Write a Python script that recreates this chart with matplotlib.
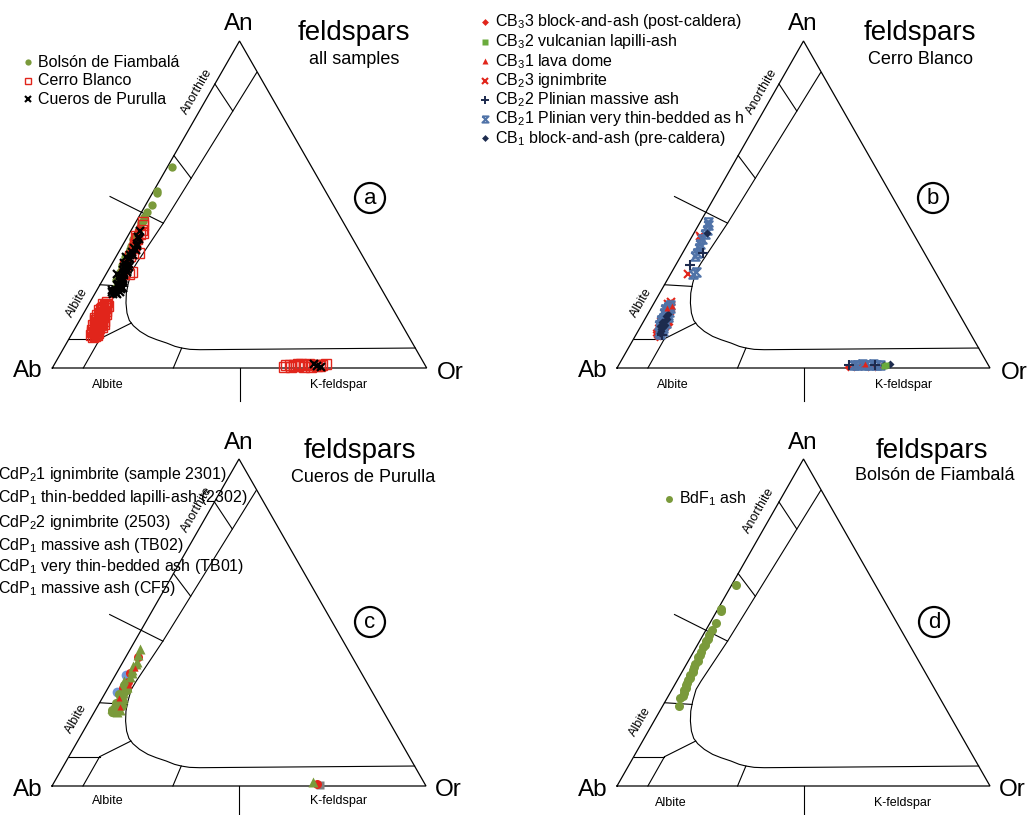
import numpy as np
import matplotlib
matplotlib.use('Agg')
import matplotlib.pyplot as plt
from matplotlib.path import Path
from matplotlib.patches import Circle

plt.rcParams['font.family'] = ['Liberation Sans', 'DejaVu Sans']
plt.rcParams['mathtext.fontset'] = 'custom'
plt.rcParams['mathtext.rm'] = 'Liberation Sans'
plt.rcParams['mathtext.it'] = 'Liberation Sans:italic'
plt.rcParams['mathtext.bf'] = 'Liberation Sans:bold'
plt.rcParams['mathtext.default'] = 'regular'

# ---------------- data: An %, Or % (Ab = 100 - An - Or) ----------------
# Bolson de Fiambala
bdf1_an = [61.6, 54.2, 53.6, 49.7, 47.6, 46.1, 45.0, 44.4, 43.2, 42.5, 41.0, 40.0,
           39.3, 38.2, 37.4, 36.5, 35.6, 34.8, 33.9, 33.0, 32.3, 31.5, 30.8, 30.0,
           29.3, 28.4, 27.4, 26.8, 24.4]
bdf1_or = [1.1, 0.9, 1.2, 1.7, 1.6, 1.5, 1.8, 1.6, 1.9, 1.9, 2.0, 2.3,
           2.0, 2.5, 2.2, 2.4, 2.7, 2.9, 2.6, 3.1, 3.0, 2.9, 3.2, 3.6,
           3.4, 3.7, 4.0, 3.5, 4.5]

# Cerro Blanco
cb33_an = [17.8, 16.2, 14.6, 13.0, 11.5, 10.2, 9.6, 10.8, 12.6, 14.5, 16.5, 18.3, 19.6,
           15.4, 11.0, 9.9, 13.5, 17.4,
           0.4, 0.3, 0.5, 0.3, 0.4, 0.6]
cb33_or = [3.6, 3.9, 4.1, 4.4, 4.8, 5.3, 6.0, 6.9, 7.1, 6.6, 6.0, 5.2, 4.6,
           3.8, 5.0, 6.5, 7.1, 5.7,
           61.8, 63.5, 65.5, 67.2, 69.0, 70.4]
cb32_an = [0.6, 0.9]
cb32_or = [71.3, 71.6]
cb31_an = [19.0, 18.4, 1.1]
cb31_or = [5.3, 4.1, 66.0]
cb23_an = [40.5, 39.8, 28.6, 20.2, 19.5, 19.0, 0.7]
cb23_or = [2.0, 2.6, 4.8, 4.4, 3.9, 4.9, 64.2]
cb22_an = [35.1, 31.6, 10.1, 0.8, 0.9]
cb22_or = [5.6, 3.7, 6.9, 61.9, 68.6]
cb21_an = [44.8, 43.6, 42.2, 40.9, 39.5, 38.0, 36.6, 35.2, 34.4, 29.3, 28.8,
           18.6, 17.6, 16.8, 16.0, 15.3, 14.6, 13.8, 13.0, 12.3, 11.6, 10.9, 17.2, 15.6, 13.9, 12.1,
           18.0, 17.0, 16.4, 15.0, 14.2, 13.4, 12.7, 11.9, 11.2, 10.5, 16.2, 14.8, 13.2, 18.2, 19.2,
           1.0, 0.9, 1.1, 0.8, 1.0, 1.2, 0.9, 1.0]
cb21_or = [1.9, 2.5, 2.9, 3.1, 3.0, 3.2, 3.6, 3.9, 3.6, 6.6, 6.1,
           4.3, 4.6, 4.3, 5.0, 4.7, 5.4, 5.0, 5.8, 5.4, 6.1, 5.8, 5.3, 5.8, 6.2, 6.4,
           4.0, 5.0, 4.6, 5.1, 5.8, 5.3, 6.1, 5.7, 6.6, 6.3, 5.6, 4.4, 4.7, 5.0, 4.5,
           63.0, 64.0, 65.0, 66.0, 67.0, 68.0, 69.0, 70.0]
cb1_an = [16.4, 15.0, 13.6, 12.4, 11.2, 14.2, 12.8, 15.8, 14.0, 13.0, 11.8, 10.8, 41.3, 1.0, 1.1]
cb1_or = [5.4, 5.9, 5.6, 6.0, 6.3, 4.9, 5.1, 5.2, 5.4, 6.4, 5.9, 6.0, 3.6, 71.0, 72.6]

# Cueros de Purulla
cdp21_an = [39.4, 34.5, 31.9, 30.0, 27.5, 25.0, 0.5]
cdp21_or = [3.4, 3.6, 4.5, 4.0, 5.0, 5.8, 70.5]
cdp2302_an = [41.8, 40.2, 38.0, 37.2, 36.8, 35.5, 34.6, 33.4, 32.0, 31.2, 30.4, 29.2, 28.3,
              27.2, 26.5, 25.8, 25.3, 24.6, 24.0, 23.5, 23.2, 22.8, 22.6, 1.3]
cdp2302_or = [2.6, 2.9, 3.6, 3.9, 3.3, 3.6, 4.2, 4.1, 3.2, 4.2, 4.8, 4.5, 4.9,
              5.3, 5.7, 4.6, 5.1, 5.4, 4.0, 5.0, 6.6, 5.5, 6.0, 69.2]
cdp22_an = [33.9, 28.8]
cdp22_or = [2.8, 2.9]
cdptb02_an = [24.5, 0.3]
cdptb02_or = [6.0, 71.5]
cdptb01_an = [36.0, 31.0, 27.0, 24.2]
cdptb01_or = [4.3, 5.0, 4.5, 6.2]
cdpcf5_an = [30.8, 29.5, 28.0, 26.2, 25.5, 24.6, 23.8, 23.2, 22.6]
cdpcf5_or = [3.8, 5.2, 4.0, 5.1, 4.4, 6.5, 5.2, 4.4, 4.8]

# legend labels
labels_a = ['Bolsón de Fiambalá', 'Cerro Blanco', 'Cueros de Purulla']
labels_b = ['CB$_3$3 block-and-ash (post-caldera)', 'CB$_3$2 vulcanian lapilli-ash',
            'CB$_3$1 lava dome', 'CB$_2$3 ignimbrite', 'CB$_2$2 Plinian massive ash',
            'CB$_2$1 Plinian very thin-bedded as h', 'CB$_1$ block-and-ash (pre-caldera)']
labels_c = ['CdP$_2$1 ignimbrite (sample 2301)', 'CdP$_1$ thin-bedded lapilli-ash (2302)',
            'CdP$_2$2 ignimbrite (2503)', 'CdP$_1$ massive ash (TB02)',
            'CdP$_1$ very thin-bedded ash (TB01)', 'CdP$_1$ massive ash (CF5)']
labels_d = ['BdF$_1$ ash']

# field boundaries of the feldspar diagram, as (An, Or) fractions
outline = [(0, 0), (1, 0), (0, 1), (0, 0)]
inner = [(0.9033, 0.0942), (0.443, 0.075), (0.3208, 0.0649), (0.2953, 0.0643), (0.2597, 0.0732),
         (0.2291, 0.0832), (0.1986, 0.0975), (0.168, 0.1155), (0.1456, 0.1329), (0.1293, 0.1518),
         (0.112, 0.1782), (0.0967, 0.2081), (0.0866, 0.2354), (0.0764, 0.2672), (0.0662, 0.2946),
         (0.0611, 0.3150), (0.057, 0.3393), (0.056, 0.3665), (0.0611, 0.9389)]
ticks = [
    [(0.8686, 0.0), (0.786, 0.089)],
    [(0.6497, 0.0), (0.5804, 0.0805)],
    [(0.5244, -0.108), (0.443, 0.075)],
    [(0.2546, 0.0), (0.2495, 0.0765)],
    [(0.0896, 0.0), (0.0896, 0.0825)],
    [(0.0896, 0.0825), (0.1375, 0.1423)],
    [(0.0, 0.0828), (0.0896, 0.0825)],
    [(0.0, 0.3232), (0.0611, 0.3150)],
]

# colours
OLIVE = '#7a9a3b'
RED = '#e1251b'
NAVY = '#1d2b4e'
BLUEG = '#5073a8'
GREEN = '#6aab3c'
LBLUE = '#7096d6'
GREY = '#7f7f7f'

hourglass = Path([(-1, 1), (1, 1), (-1, -1), (1, -1), (-1, 1)])

FW, FH = 1029, 815
fig = plt.figure(figsize=(FW / 100, FH / 100), dpi=100)
ov = fig.add_axes([0, 0, 1, 1])
ov.set_xlim(0, FW)
ov.set_ylim(FH, 0)
ov.axis('off')

# panel geometry in pixels: Ab vertex x, y, width, height
geom = {'a': (52.3, 368, 374.4, 327), 'b': (617, 368, 373, 327),
        'c': (52, 786, 374, 327), 'd': (617, 786, 373, 327)}


def txy(an, orr, scale=100.0):
    an = np.asarray(an, float) / scale
    orr = np.asarray(orr, float) / scale
    return orr + an / 2, an


def make_panel(key):
    x0, y0, w, h = geom[key]
    ax = fig.add_axes([x0 / FW, 1 - y0 / FH, w / FW, h / FH])
    ax.set_xlim(0, 1)
    ax.set_ylim(0, 1)
    ax.axis('off')
    lw = 0.8
    a, o = zip(*outline)
    ax.plot(*txy(a, o, 1), color='black', lw=0.9, clip_on=False, solid_joinstyle='miter')
    a, o = zip(*inner)
    ax.plot(*txy(a, o, 1), color='black', lw=lw, clip_on=False)
    for seg in ticks:
        a, o = zip(*seg)
        ax.plot(*txy(a, o, 1), color='black', lw=lw, clip_on=False)
    ax.plot([0.5, 0.5], [0, -0.1], color='black', lw=lw, clip_on=False)
    return ax


def pts(ax, an, orr, **kw):
    x, y = txy(an, orr)
    ax.plot(x, y, ls='none', clip_on=False, **kw)


# ---- panel a ----
ax = make_panel('a')
pts(ax, bdf1_an, bdf1_or, marker='o', ms=6, mfc=OLIVE, mec='none')
cb_all_an = cb33_an + cb32_an + cb31_an + cb23_an + cb22_an + cb21_an + cb1_an
cb_all_or = cb33_or + cb32_or + cb31_or + cb23_or + cb22_or + cb21_or + cb1_or
pts(ax, cb_all_an, cb_all_or, marker='s', ms=6.5, mfc='none', mec=RED, mew=1.0)
cdp_all_an = cdp21_an + cdp2302_an + cdp22_an + cdptb02_an + cdptb01_an + cdpcf5_an
cdp_all_or = cdp21_or + cdp2302_or + cdp22_or + cdptb02_or + cdptb01_or + cdpcf5_or
pts(ax, cdp_all_an, cdp_all_or, marker='x', ms=6, mec='black', mew=1.6)

# ---- panel b ----
ax = make_panel('b')
pts(ax, cb33_an, cb33_or, marker='D', ms=4, mfc=RED, mec='none')
pts(ax, cb23_an, cb23_or, marker='x', ms=6, mec=RED, mew=1.5)
pts(ax, cb21_an, cb21_or, marker=hourglass, ms=6, mfc='none', mec=BLUEG, mew=1.6)
pts(ax, cb1_an, cb1_or, marker='D', ms=4, mfc=NAVY, mec='none')
pts(ax, cb22_an, cb22_or, marker='+', ms=7, mec=NAVY, mew=1.5)
pts(ax, cb31_an, cb31_or, marker='^', ms=5, mfc=RED, mec='none')
pts(ax, cb32_an, cb32_or, marker='s', ms=4.5, mfc=GREEN, mec='none')

# ---- panel c ----
ax = make_panel('c')
pts(ax, cdptb02_an, cdptb02_or, marker='s', ms=6, mfc=GREY, mec='none')
pts(ax, cdp22_an, cdp22_or, marker='o', ms=7, mfc=LBLUE, mec='none')
pts(ax, cdp21_an, cdp21_or, marker='o', ms=6.5, mfc=RED, mec='none')
pts(ax, cdp2302_an, cdp2302_or, marker='^', ms=7.5, mfc=OLIVE, mec='none')
pts(ax, cdpcf5_an, cdpcf5_or, marker='o', ms=6.5, mfc=OLIVE, mec='none')
pts(ax, cdptb01_an, cdptb01_or, marker='^', ms=4, mfc=RED, mec='none')

# ---- panel d ----
ax = make_panel('d')
pts(ax, bdf1_an, bdf1_or, marker='o', ms=6.5, mfc=OLIVE, mec='none')

# ---------------- annotations (pixel coordinates) ----------------
ROT = 60.2
VSZ = 17.5


def annotate(title_x, title_y, sub, sub_x, sub_y, letter, cx, cy,
             an_xy, ab_xy, or_xy, alb_base, kf_base, anor_rot, alb_rot):
    ov.text(*an_xy, 'An', fontsize=VSZ, ha='center', va='center')
    ov.text(*ab_xy, 'Ab', fontsize=VSZ, ha='center', va='center')
    ov.text(*or_xy, 'Or', fontsize=VSZ, ha='center', va='center')
    ov.text(title_x, title_y, 'feldspars', fontsize=20, ha='center', va='baseline')
    ov.text(sub_x, sub_y, sub, fontsize=13, ha='center', va='baseline')
    ov.add_patch(Circle((cx, cy), 15, fill=False, lw=1.6, ec='black'))
    ov.text(cx, cy + 1, letter, fontsize=16, ha='center', va='center')
    ov.text(*alb_base, 'Albite', fontsize=9, ha='center', va='center')
    ov.text(*kf_base, 'K-feldspar', fontsize=9, ha='center', va='center')
    ov.text(*anor_rot, 'Anorthite', fontsize=9, ha='center', va='center',
            rotation=ROT, rotation_mode='anchor')
    ov.text(*alb_rot, 'Albite', fontsize=9, ha='center', va='center',
            rotation=ROT, rotation_mode='anchor')


annotate(354, 40.5, 'all samples', 354, 64, 'a', 370, 198,
         (239, 24.5), (28, 371), (450, 373), (108, 385), (339, 385), (197, 92), (77, 303))
annotate(920, 40.5, 'Cerro Blanco', 920, 64, 'b', 933, 198,
         (803, 24.5), (593, 371), (1014, 373), (673, 385), (904, 385), (761.5, 92), (641.5, 303))
annotate(360, 457.5, 'Cueros de Purulla', 362.7, 482.5, 'c', 370, 622,
         (239, 443), (28, 790), (448, 790), (108, 801), (339, 801), (196.7, 510), (76.7, 718.3))
annotate(931.7, 457.5, 'Bolsón de Fiambalá', 935, 480, 'd', 934, 622,
         (802.7, 443), (593, 790), (1012.7, 790), (671, 802.7), (902.3, 802.7), (759.3, 510.7), (640, 721.7))

LSZ = 11.5
# legend a
rows_a = [62.3, 80.7, 99.3]
ov.plot([28.3], [rows_a[0]], marker='o', ms=4.5, mfc=OLIVE, mec='none', ls='none')
ov.plot([28.3], [rows_a[1]], marker='s', ms=5, mfc='none', mec=RED, mew=1.0, ls='none')
ov.plot([28.3], [rows_a[2]], marker='x', ms=4.5, mec='black', mew=1.5, ls='none')
for lab, yy in zip(labels_a, rows_a):
    ov.text(37.7, yy, lab, fontsize=LSZ, ha='left', va='center')

# legend b
rows_b = [21.7, 41.5, 61.2, 80.5, 100, 118.5, 138]
mk_b = [dict(marker='D', ms=3.5, mfc=RED, mec='none'),
        dict(marker='s', ms=5, mfc=GREEN, mec='none'),
        dict(marker='^', ms=4.5, mfc=RED, mec='none'),
        dict(marker='x', ms=5, mec=RED, mew=1.5),
        dict(marker='+', ms=5.5, mec=NAVY, mew=1.4),
        dict(marker=hourglass, ms=4.5, mfc='none', mec=BLUEG, mew=1.4),
        dict(marker='D', ms=3.5, mfc=NAVY, mec='none')]
for lab, yy, mk in zip(labels_b, rows_b, mk_b):
    ov.plot([484.5], [yy], ls='none', **mk)
    ov.text(495, yy, lab, fontsize=LSZ, ha='left', va='center')

# legend c (its markers lie beyond the left edge of the figure, as in the reference)
rows_c = [475, 497.3, 522.7, 545.7, 566, 588.3]
for lab, yy in zip(labels_c, rows_c):
    ov.text(-2, yy, lab, fontsize=LSZ, ha='left', va='center')

# legend d
ov.plot([669], [499], marker='o', ms=5, mfc=OLIVE, mec='none', ls='none')
ov.text(679, 499, labels_d[0], fontsize=LSZ, ha='left', va='center')

fig.savefig('out.png', dpi=100)
